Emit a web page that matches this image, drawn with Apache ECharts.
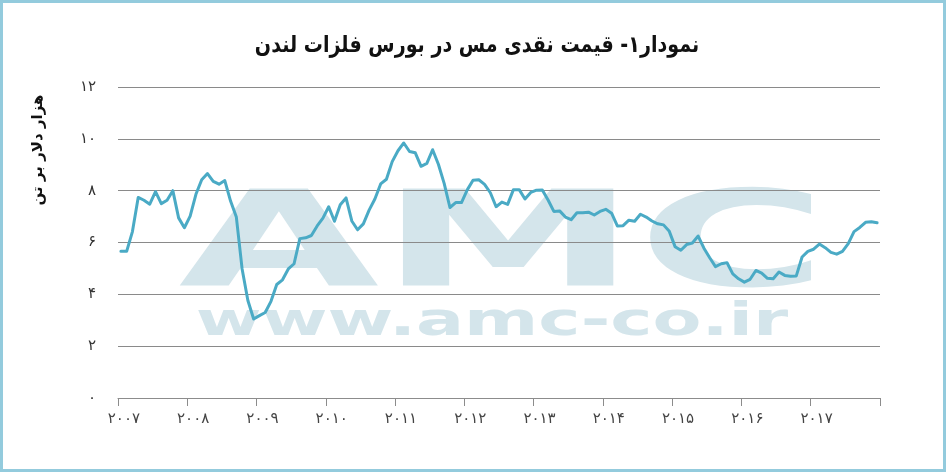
<!DOCTYPE html>
<html>
<head>
<meta charset="utf-8">
<script src="https://cdn.jsdelivr.net/npm/echarts@6/dist/echarts.min.js"></script>
<style>
html,body{margin:0;padding:0;background:#fff;}
#c{width:947px;height:474px;}
#frame{position:absolute;left:0;top:0;width:946px;height:472px;box-sizing:border-box;border:3px solid #93cbdd;pointer-events:none;}
</style>
</head>
<body>
<div id="c"></div>
<div id="frame"></div>
<script>
// ---- data (thousand USD per tonne, monthly averages) ----
const yearLabels = ['۲۰۰۷','۲۰۰۸','۲۰۰۹','۲۰۱۰','۲۰۱۱','۲۰۱۲','۲۰۱۳','۲۰۱۴','۲۰۱۵','۲۰۱۶','۲۰۱۷'];
const price2007 = [5.66, 5.66, 6.42, 7.74, 7.63, 7.48, 7.96, 7.50, 7.63, 8.00, 6.95, 6.57];
const price2008 = [7.02, 7.86, 8.42, 8.66, 8.36, 8.25, 8.39, 7.60, 6.98, 4.98, 3.76, 3.05];
const price2009 = [3.18, 3.30, 3.73, 4.38, 4.56, 4.98, 5.18, 6.15, 6.18, 6.27, 6.64, 6.94];
const price2010 = [7.38, 6.82, 7.46, 7.72, 6.83, 6.49, 6.72, 7.25, 7.68, 8.26, 8.44, 9.12];
const price2011 = [9.54, 9.84, 9.51, 9.46, 8.94, 9.05, 9.58, 9.02, 8.28, 7.35, 7.54, 7.54];
const price2012 = [8.03, 8.40, 8.42, 8.24, 7.92, 7.38, 7.56, 7.47, 8.04, 8.04, 7.68, 7.93];
const price2013 = [8.02, 8.03, 7.64, 7.20, 7.22, 6.98, 6.88, 7.15, 7.15, 7.17, 7.06, 7.20];
const price2014 = [7.28, 7.13, 6.64, 6.65, 6.86, 6.82, 7.09, 6.98, 6.83, 6.72, 6.68, 6.43];
const price2015 = [5.84, 5.70, 5.92, 5.98, 6.25, 5.78, 5.41, 5.07, 5.18, 5.22, 4.79, 4.60];
const price2016 = [4.47, 4.58, 4.92, 4.82, 4.62, 4.60, 4.86, 4.73, 4.70, 4.71, 5.44, 5.66];
const price2017 = [5.74, 5.94, 5.80, 5.62, 5.55, 5.66, 5.96, 6.42, 6.58, 6.78, 6.80, 6.76];
const yTickLabels = ['۰','۲','۴','۶','۸','۱۰','۱۲'];
const titleText = 'نمودار۱- قیمت نقدی مس در بورس فلزات لندن';
const yAxisTitle = 'هزار دلار بر تن';
const watermarkBig = 'AMC';
const watermarkUrl = 'www.amc-co.ir';

const yearly = [price2007, price2008, price2009, price2010, price2011, price2012,
                price2013, price2014, price2015, price2016, price2017];
const categories = [];
const values = [];
yearly.forEach((arr, i) => arr.forEach((v, m) => {
  categories.push(yearLabels[i] + '|' + (m + 1));
  values.push(v);
}));

const chart = echarts.init(document.getElementById('c'), null, {renderer: 'canvas'});
const FONT = '"DejaVu Sans", "Noto Sans", sans-serif';
chart.setOption({
  animation: false,
  backgroundColor: '#ffffff',
  grid: {left: 118, right: 67, top: 87, bottom: 76, containLabel: false},
  graphic: [
    {
      type: 'text', x: 477, y: 46, scaleX: 0.83, scaleY: 1, z: 10, silent: true,
      style: {text: titleText, fill: '#111', font: 'bold 23px ' + FONT,
              textAlign: 'center', textVerticalAlign: 'middle'}
    },
    {
      type: 'text', x: 503, y: 251, scaleX: 1.95, scaleY: 1, z: -10, silent: true,
      style: {text: watermarkBig, fill: '#d4e5eb', font: '900 133px "DejaVu Sans"',
              textAlign: 'center', textVerticalAlign: 'middle'}
    },
    {
      type: 'text', x: 492, y: 323, scaleX: 1.55, scaleY: 1, z: -10, silent: true,
      style: {text: watermarkUrl, fill: '#d4e5eb', font: '900 46px "DejaVu Sans"',
              textAlign: 'center', textVerticalAlign: 'middle'}
    },
    {
      type: 'text', x: 38, y: 150, rotation: Math.PI / 2, z: 10, silent: true,
      style: {text: yAxisTitle, fill: '#111', font: 'bold 15px ' + FONT,
              textAlign: 'center', textVerticalAlign: 'middle'}
    }
  ],
  xAxis: {
    type: 'category',
    data: categories,
    boundaryGap: true,
    axisLine: {show: true, lineStyle: {color: '#8c8c8c', width: 1}},
    axisTick: {show: true, interval: 11, length: 8, lineStyle: {color: '#8c8c8c'}},
    axisLabel: {
      interval: 11, margin: 14, color: '#444', fontFamily: FONT, fontSize: 15,
      padding: [0, 0, 0, 6],
      formatter: v => v.split('|')[0]
    },
    splitLine: {show: false}
  },
  yAxis: {
    type: 'value',
    min: 0, max: 12, interval: 2,
    axisLine: {show: false},
    axisTick: {show: false},
    axisLabel: {
      margin: 22, color: '#333', fontFamily: FONT, fontSize: 15,
      formatter: v => yTickLabels[Math.round(v / 2)]
    },
    splitLine: {show: true, lineStyle: {color: '#8a8a8a', width: 1}}
  },
  series: [{
    type: 'line',
    data: values,
    showSymbol: false,
    smooth: false,
    lineStyle: {color: '#4aaac5', width: 3, join: 'round', cap: 'round'},
    z: 5
  }]
});
</script>
</body>
</html>
